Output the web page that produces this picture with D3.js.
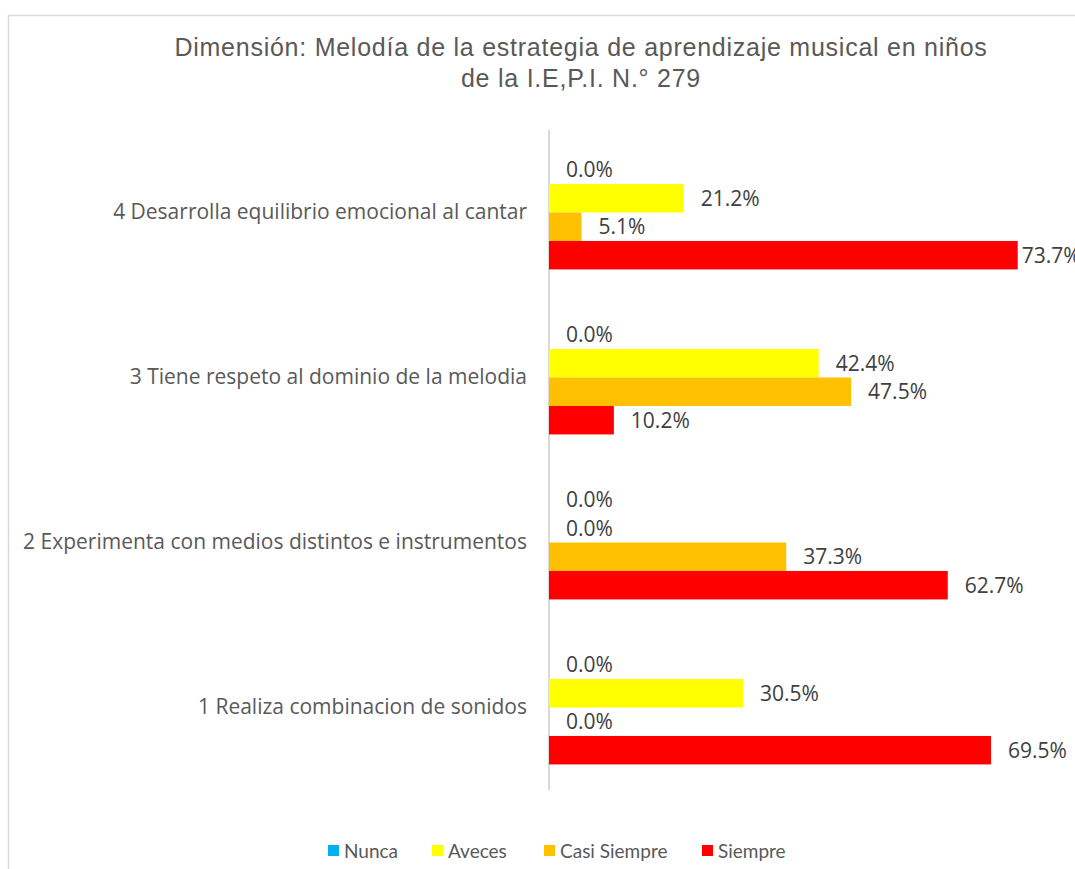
<!DOCTYPE html>
<html>
<head>
<meta charset="utf-8">
<script src="https://cdn.jsdelivr.net/npm/d3@7"></script>
<style>
  body { margin: 0; background: #fff; }
  svg { display: block; }
</style>
</head>
<body>
<svg width="1075" height="869"></svg>
<script>
var categories = [
    "4 Desarrolla equilibrio emocional al cantar",
    "3 Tiene respeto al dominio de la melodia",
    "2 Experimenta con medios distintos e instrumentos",
    "1 Realiza combinacion de sonidos"
];
var seriesNames = ["Nunca", "Aveces", "Casi Siempre", "Siempre"];
var seriesColors = ["#00b0f0", "#ffff00", "#ffc000", "#ff0000"];
// values per category, same order as categories
var nunca = [0.0, 0.0, 0.0, 0.0];
var aveces = [21.2, 42.4, 0.0, 30.5];
var casiSiempre = [5.1, 47.5, 37.3, 0.0];
var siempre = [73.7, 10.2, 62.7, 69.5];
var titleLines = ["Dimensión: Melodía de la estrategia de aprendizaje musical en niños", "de la I.E,P.I. N.° 279"];

function init() {
    var svg = d3.select('svg');
    var seriesValues = [nunca, aveces, casiSiempre, siempre];
    var rows = [];
    categories.forEach(function (c, ci) {
        seriesNames.forEach(function (s, si) {
            rows.push({ cat: c, series: s, value: seriesValues[si][ci], color: seriesColors[si] });
        });
    });

    // chart frame (clipped at right and bottom like the original)
    svg.append('rect')
        .attr('x', 8.5).attr('y', 15.5)
        .attr('width', 1100).attr('height', 900)
        .attr('fill', 'none')
        .attr('stroke', '#d9d9d9')
        .attr('stroke-width', 1.5);

    svg.selectAll('.title').data(titleLines).enter().append('text')
        .attr('class', 'title')
        .attr('x', 581)
        .attr('y', function (d, i) { return 56 + i * 31; })
        .attr('text-anchor', 'middle')
        .attr('font-family', 'Liberation Sans, Arial, sans-serif')
        .attr('font-size', 25)
        .attr('letter-spacing', 0.75)
        .attr('fill', '#595959')
        .text(function (d) { return d; });

    var x = d3.scaleLinear().domain([0, 100]).range([549, 1185]);
    var y = d3.scaleBand().domain(categories).range([130, 790])
        .paddingInner(0.31).paddingOuter(0.155);
    var ySub = d3.scaleBand().domain(seriesNames).range([0, y.bandwidth()]);

    var yAxis = d3.axisLeft(y).tickSize(0).tickPadding(22);
    var ag = svg.append('g').attr('transform', 'translate(549,0)').call(yAxis);
    ag.select('.domain').attr('stroke', '#d9d9d9').attr('stroke-width', 2)
        .attr('d', 'M0,130V790');
    ag.selectAll('text')
        .attr('font-family', 'Open Sans, sans-serif')
        .attr('font-size', 21)
        .attr('fill', '#595959');

    svg.selectAll('.bar').data(rows).enter().append('rect')
        .attr('class', 'bar')
        .attr('x', x(0))
        .attr('y', function (d) { return y(d.cat) + ySub(d.series); })
        .attr('width', function (d) { return x(d.value) - x(0); })
        .attr('height', ySub.bandwidth())
        .attr('fill', function (d) { return d.color; });

    svg.selectAll('.lbl').data(rows).enter().append('text')
        .attr('class', 'lbl')
        .attr('x', function (d) { return x(d.value) + (d.value > 70 ? 4 : 17); })
        .attr('y', function (d) { return y(d.cat) + ySub(d.series) + ySub.bandwidth() / 2; })
        .attr('dy', '0.36em')
        .attr('font-family', 'Open Sans, sans-serif')
        .attr('font-size', 21)
        .attr('fill', '#404040')
        .text(function (d) { return d.value.toFixed(1) + '%'; });

    // legend
    var legX = [328, 432, 544, 702];
    var lg = svg.selectAll('.leg').data(seriesNames).enter().append('g')
        .attr('class', 'leg')
        .attr('transform', function (d, i) { return 'translate(' + legX[i] + ',845)'; });
    lg.append('rect')
        .attr('width', 11).attr('height', 11)
        .attr('fill', function (d, i) { return seriesColors[i]; });
    lg.append('text')
        .attr('x', 16).attr('y', 6)
        .attr('dy', '0.36em')
        .attr('font-family', 'Lato, sans-serif')
        .attr('font-size', 19)
        .attr('fill', '#595959')
        .text(function (d) { return d; });
}
init();
</script>
</body>
</html>
